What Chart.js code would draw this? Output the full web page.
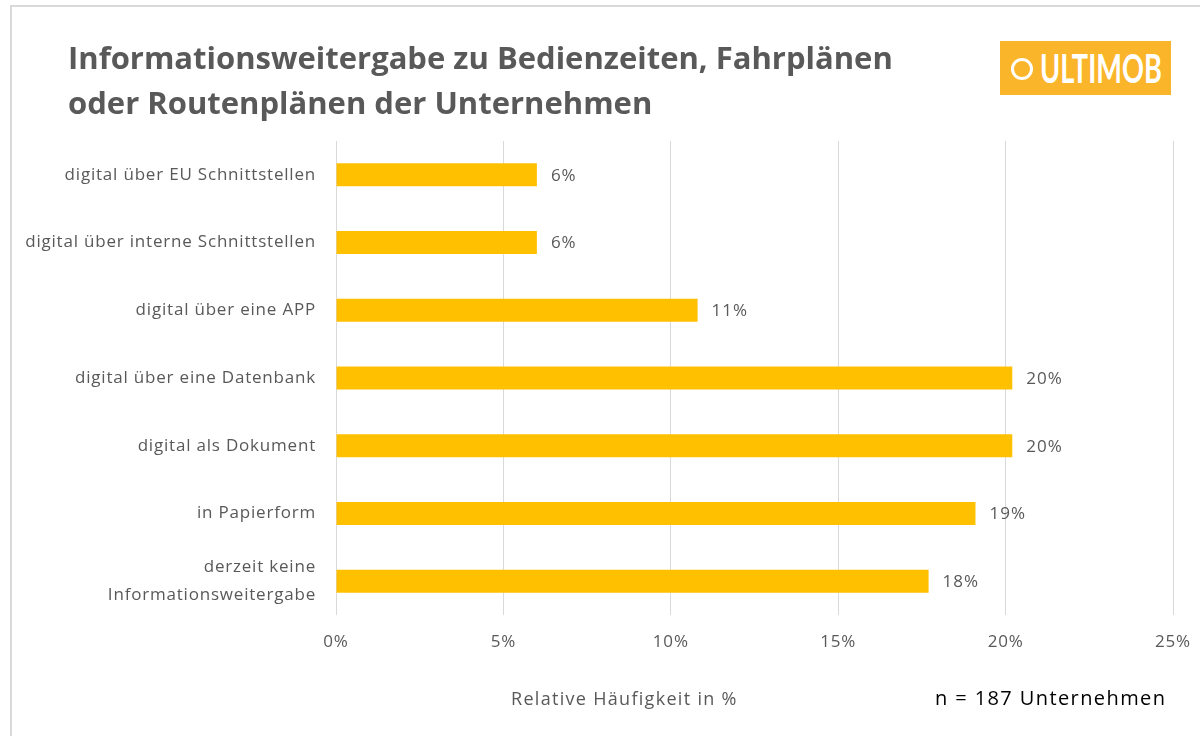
<!DOCTYPE html>
<html>
<head>
<meta charset="utf-8">
<script src="https://cdn.jsdelivr.net/npm/chart.js@4/dist/chart.umd.min.js"></script>
<style>
  body { margin: 0; background: #fff; }
  #wrap { position: relative; width: 1200px; height: 736px; overflow: hidden; background: #fff; }
  #frame { position: absolute; left: 10px; top: 5px; right: -5px; bottom: -5px; border-top: 2px solid #d9d9d9; border-left: 2px solid #d9d9d9; }
  #title { position: absolute; left: 68px; top: 35px; font: bold 31px "Open Sans", sans-serif; color: #595959; line-height: 45px; white-space: nowrap; }
  #logo { position: absolute; left: 1000px; top: 41px; width: 171px; height: 54px; background: #fbb52a; overflow: hidden; }
  #logo .ring { position: absolute; left: 11px; top: 17px; width: 16px; height: 16px; border: 3px solid #fff; border-radius: 50%; }
  #logo .txt { position: absolute; left: 40px; top: 2px; font: bold 41px Lato, sans-serif; color: #fff; transform-origin: 0 50%; white-space: nowrap; }
  #xtitle { position: absolute; left: 511px; top: 686px; font: 18px "Open Sans", sans-serif; letter-spacing: 1.3px; color: #595959; white-space: nowrap; }
  #note { position: absolute; left: 935px; top: 684px; font: 20px "Open Sans", sans-serif; letter-spacing: 1.4px; color: #000; white-space: nowrap; }
  canvas { position: absolute; left: 0; top: 0; }
</style>
</head>
<body>
<div id="wrap">
  <div id="frame"></div>
  <canvas id="chart_one" width="1200" height="736"></canvas>
  <div id="title">Informationsweitergabe zu Bedienzeiten, Fahrplänen<br>oder Routenplänen der Unternehmen</div>
  <div id="logo"><div class="ring"></div><div class="txt" id="logoTxt">ULTIMOB</div></div>
  <div id="xtitle">Relative Häufigkeit in %</div>
  <div id="note">n = 187 Unternehmen</div>
</div>
<script>
var categories = [
  "digital über EU Schnittstellen",
  "digital über interne Schnittstellen",
  "digital über eine APP",
  "digital über eine Datenbank",
  "digital als Dokument",
  "in Papierform",
  ["derzeit keine", "Informationsweitergabe"]
];
var shares = [6.0, 6.0, 10.8, 20.2, 20.2, 19.1, 17.7];
var tickMax = 25;
var tickStep = 5;

var barColor = '#ffc000';
var textGray = '#595959';
var gridGray = '#d9d9d9';

// squeeze the logo word into its box
var logoTxt = document.getElementById('logoTxt');
logoTxt.style.transform = 'scaleX(' + (122 / logoTxt.offsetWidth) + ')';

// slightly wider text on the canvas, like the original
var spacing = {
  id: 'spacing',
  beforeDraw: function(chart) { chart.ctx.letterSpacing = '0.8px'; }
};

// value labels right of each bar
var valueLabels = {
  id: 'valueLabels',
  afterDatasetsDraw: function(chart) {
    var ctx = chart.ctx;
    var meta = chart.getDatasetMeta(0);
    ctx.save();
    ctx.letterSpacing = '1px';
    ctx.font = '17px "Open Sans", sans-serif';
    ctx.fillStyle = textGray;
    ctx.textAlign = 'left';
    ctx.textBaseline = 'middle';
    meta.data.forEach(function(bar, i) {
      ctx.fillText(Math.round(shares[i]) + '%', bar.x + 14, bar.y + 1);
    });
    ctx.restore();
  }
};

var activityCanvas_1 = document.getElementById("chart_one");

var lineChart = new Chart(activityCanvas_1, {
  type: 'bar',
  data: {
    labels: categories,
    datasets: [{
      data: shares,
      backgroundColor: barColor,
      barPercentage: 1,
      categoryPercentage: 0.34
    }]
  },
  options: {
    indexAxis: 'y',
    responsive: false,
    animation: false,
    layout: { padding: { left: 0, right: 27, top: 141, bottom: 0 } },
    plugins: {
      legend: { display: false },
      tooltip: { enabled: false }
    },
    scales: {
      x: {
        min: 0,
        max: tickMax,
        border: { display: false },
        grid: { color: gridGray, lineWidth: 1, drawTicks: false },
        ticks: {
          stepSize: tickStep,
          padding: 17,
          color: textGray,
          font: { family: 'Open Sans', size: 17 },
          callback: function(v) { return v + '%'; }
        },
        afterFit: function(scale) {
          scale.height = 121;
          scale.paddingRight = 0;
          scale.paddingLeft = 0;
        }
      },
      y: {
        border: { display: false },
        grid: { display: false, drawTicks: false },
        ticks: {
          padding: 20,
          color: textGray,
          font: { family: 'Open Sans', size: 17, lineHeight: 1.65 }
        },
        afterFit: function(scale) { scale.width = 336; }
      }
    }
  },
  plugins: [spacing, valueLabels]
});
</script>
</body>
</html>
